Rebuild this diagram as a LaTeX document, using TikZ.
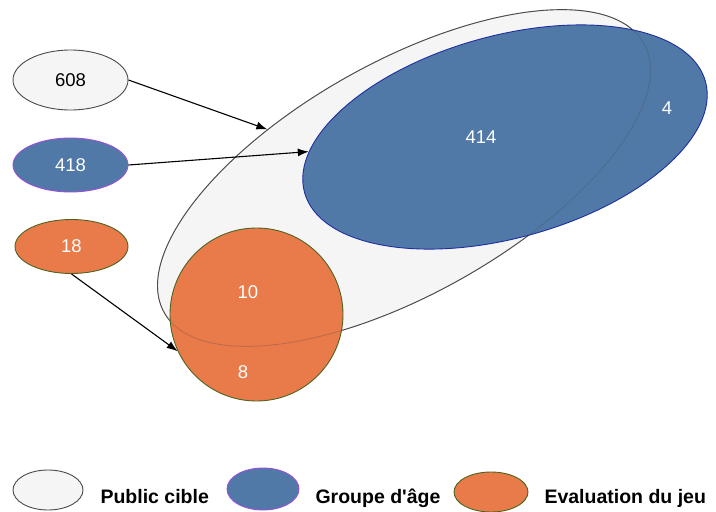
\documentclass[tikz,border=0pt]{standalone}
\usepackage{fontspec}
\setmainfont{Liberation Sans}
\usetikzlibrary{shapes.geometric,arrows.meta}
\definecolor{grayfill}{HTML}{F5F5F5}
\definecolor{grayline}{HTML}{4A4A4A}
\definecolor{bluefill}{HTML}{5079A8}
\definecolor{blueline}{HTML}{1F2FA0}
\definecolor{purpline}{HTML}{9A4FD8}
\definecolor{orangefill}{HTML}{E97A4A}
\definecolor{orangeline}{HTML}{4E6420}
\tikzset{
  grayshape/.style={ellipse, draw=grayline, fill=grayfill, line width=0.9pt, inner sep=0pt},
  blueshape/.style={ellipse, draw=purpline, fill=bluefill, line width=0.9pt, inner sep=0pt},
  orangeshape/.style={ellipse, draw=orangeline, fill=orangefill, line width=0.9pt, inner sep=0pt},
  num/.style={font=\fontsize{18.5}{20}\selectfont},
  wnum/.style={num, text=white},
  legtext/.style={anchor=base west, font=\fontsize{19.5}{22}\selectfont\bfseries},
  conn/.style={draw=black, line width=1.1pt, -{Latex[length=11pt,width=8pt]}}
}
\begin{document}
\begin{tikzpicture}[x=1pt,y=-1pt]
\useasboundingbox (0,0) rectangle (716,512);
% big Venn shapes
\node[grayshape, minimum width=550pt, minimum height=232pt, rotate=29.3] (gray) at (404,178) {};
\node[blueshape, draw=blueline, minimum width=416pt, minimum height=202pt, rotate=15.5] (blue) at (505,137) {};
\node[orangeshape, circle, minimum size=173pt] (orange) at (256.5,314.5) {};
\node[ellipse, draw=grayline, draw opacity=0.28, line width=0.9pt, inner sep=0pt, minimum width=550pt, minimum height=232pt, rotate=29.3] (graytrace) at (404,178) {};
% region labels
\node[wnum] (l414) at (481,137) {414};
\node[wnum] (l4) at (667,108) {4};
\node[wnum] (l10) at (248,292.5) {10};
\node[wnum] (l8) at (243,372.5) {8};
% count ellipses
\node[grayshape, minimum width=115pt, minimum height=60pt, num] (e608) at (70.5,80) {608};
\node[blueshape, minimum width=115pt, minimum height=54pt, wnum] (e418) at (70.5,165) {418};
\node[orangeshape, minimum width=113pt, minimum height=54pt, wnum] (e18) at (71.5,246.5) {18};
% connectors
\draw[conn] (e608.east) -- (gray);
\draw[conn] (e418.east) -- (blue);
\draw[conn] (e18.south) -- (orange.205);
% legend
\node[grayshape, minimum width=70pt, minimum height=40pt] (k1) at (48,490) {};
\node[legtext] (t1) at (97,503) {Public cible};
\node[blueshape, minimum width=72pt, minimum height=42pt] (k2) at (263,489) {};
\node[legtext] (t2) at (312,503) {Groupe d\textquotesingle âge};
\node[orangeshape, minimum width=74pt, minimum height=40pt] (k3) at (491,492) {};
\node[legtext] (t3) at (541,503) {Evaluation du jeu};
\end{tikzpicture}
\end{document}
